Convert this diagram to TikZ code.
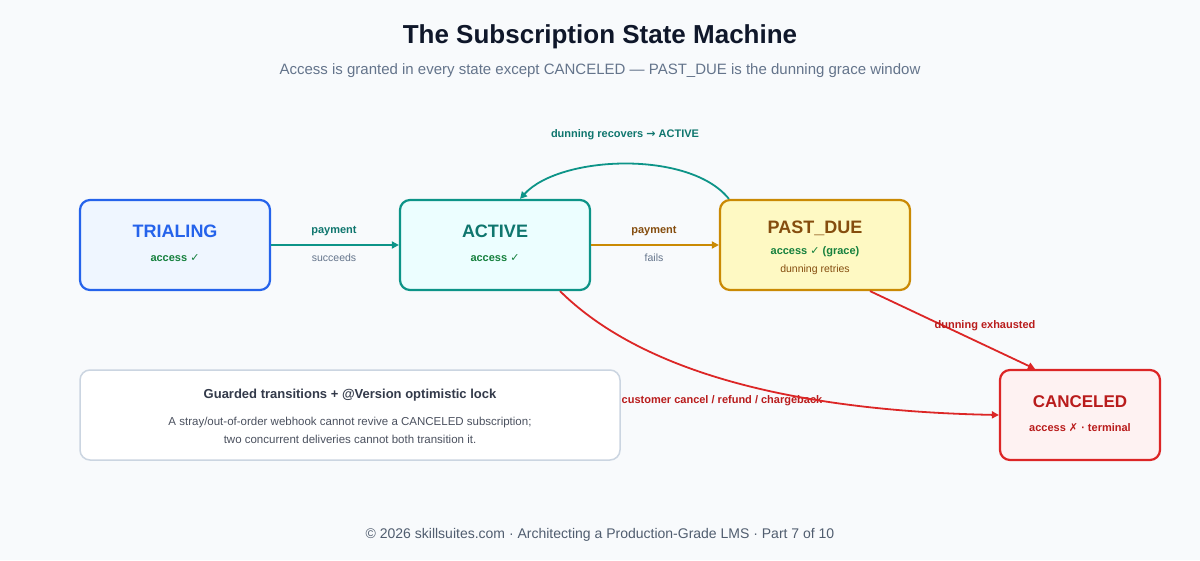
\documentclass[tikz,border=0pt]{standalone}
\usepackage{fontspec}
\setmainfont{Liberation Sans}
\newfontfamily\symf{DejaVu Sans}
\usetikzlibrary{positioning,arrows.meta}
\definecolor{bgc}{HTML}{F8FAFC}
\definecolor{ink}{HTML}{0F172A}
\definecolor{slate}{HTML}{64748B}
\definecolor{trb}{HTML}{2563EB}\definecolor{trf}{HTML}{EFF6FF}
\definecolor{acb}{HTML}{0D9488}\definecolor{acf}{HTML}{ECFEFF}\definecolor{act}{HTML}{0F766E}
\definecolor{pdb}{HTML}{CA8A04}\definecolor{pdf}{HTML}{FEF9C3}\definecolor{pdt}{HTML}{854D0E}
\definecolor{cab}{HTML}{DC2626}\definecolor{caf}{HTML}{FEF2F2}\definecolor{cat}{HTML}{B91C1C}
\definecolor{okg}{HTML}{15803D}
\newcommand{\ck}{{\symf ✓}}
\tikzset{
  state/.style={draw, line width=2.2pt, rounded corners=10pt, minimum width=190pt, minimum height=90pt, align=center},
  trans/.style={line width=1.8pt, -{Triangle[length=7pt,width=7pt]}},
  lbl/.style={font=\bfseries\fontsize{11}{13}\selectfont},
  sub/.style={font=\fontsize{10.5}{13}\selectfont, text=slate}
}
\begin{document}
\begin{tikzpicture}[x=1pt,y=-1pt]
	\fill[bgc] (0,0) rectangle (1200,560);
	\useasboundingbox (0,0) rectangle (1200,560);

	\node[font=\bfseries\fontsize{26}{30}\selectfont, text=ink] (title) at (600,37) {The Subscription State Machine};
	\node[font=\fontsize{15}{18}\selectfont, text=slate] (subtitle) at (600,71) {Access is granted in every state except CANCELED — PAST\_DUE is the dunning grace window};

	\node[state, draw=trb, fill=trf] (trialing) at (175,245) {};
	\node[font=\bfseries\fontsize{18}{20}\selectfont, text=trb] at (175,231) {TRIALING};
	\node[lbl, text=okg] at (175,258) {access \ck};

	\node[state, draw=acb, fill=acf] (active) at (495,245) {};
	\node[font=\bfseries\fontsize{18}{20}\selectfont, text=act] at (495,231) {ACTIVE};
	\node[lbl, text=okg] at (495,258) {access \ck};

	\node[state, draw=pdb, fill=pdf] (pastdue) at (815,245) {};
	\node[font=\bfseries\fontsize{18}{20}\selectfont, text=pdt] at (815,228) {PAST\_DUE};
	\node[lbl, text=okg] at (815,252) {access \ck\ (grace)};
	\node[sub, text=pdt] at (815,270) {dunning retries};

	\node[state, draw=cab, fill=caf, minimum width=160pt] (canceled) at (1080,415) {};
	\node[font=\bfseries\fontsize{17}{20}\selectfont, text=cat] at (1080,402) {CANCELED};
	\node[lbl, text=cat] at (1080,428) {access {\symf ✗} · terminal};

	% transitions
	\draw[trans, acb] (trialing) -- (active);
	\node[lbl, text=act] at (334,231) {payment};
	\node[sub] at (334,258) {succeeds};

	\draw[trans, pdb] (active) -- (pastdue);
	\node[lbl, text=pdt] at (654,231) {payment};
	\node[sub] at (654,258) {fails};

	\draw[trans, acb] (pastdue.north west) ++(10,0) coordinate (r0) .. controls (690,150) and (560,155) .. ([xshift=25pt]active.north);
	\node[lbl, text=act] at (625,135) {dunning recovers {\symf →} ACTIVE};

	\draw[trans, cab] ([xshift=55pt]pastdue.south) -- ([xshift=-45pt]canceled.north);
	\node[lbl, text=cat] at (985,326) {dunning exhausted};

	\node[lbl, text=cat] at (722,401) {customer cancel / refund / chargeback};
	\draw[trans, cab] ([xshift=65pt]active.south) .. controls (660,390) and (850,412) .. (canceled.west);

	% note
	\node[draw={rgb,255:red,203;green,213;blue,225}, fill=white, line width=1.5pt, rounded corners=10pt, minimum width=540pt, minimum height=90pt] (note) at (350,415) {};
	\node[font=\bfseries\fontsize{13}{15}\selectfont, text=ink!85] at (350,395) {Guarded transitions + @Version optimistic lock};
	\node[font=\fontsize{11.5}{18}\selectfont, text=ink!75, align=center] at (350,430) {A stray/out-of-order webhook cannot revive a CANCELED subscription;\\two concurrent deliveries cannot both transition it.};

	\node[font=\fontsize{14}{16}\selectfont, text=slate!80!black] (footer) at (600,535) {© 2026 skillsuites.com · Architecting a Production-Grade LMS · Part 7 of 10};
\end{tikzpicture}
\end{document}
